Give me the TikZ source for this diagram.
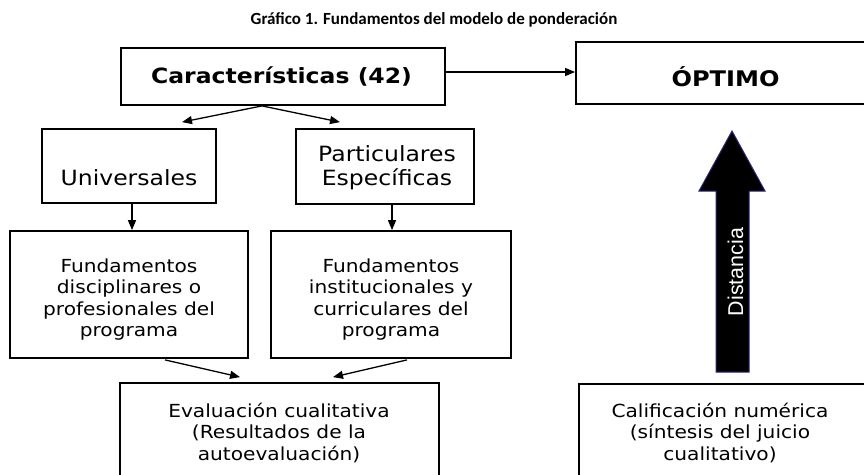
\documentclass[tikz,border=0pt]{standalone}
\usepackage{fontspec}
\newfontfamily\vfont{DejaVu Sans}[FakeStretch=1.12]
\newfontfamily\tfont{Carlito}
\newfontfamily\afont{Liberation Sans}
\usetikzlibrary{arrows.meta,calc}
\newcommand\mlines[1]{\begin{tabular}[t]{@{}c@{}}#1\end{tabular}}
\begin{document}
\begin{tikzpicture}[x=1pt,y=-1pt,
  box/.style={draw=black,line width=1.8pt,inner sep=0pt},
  txt/.style={inner sep=0pt,anchor=base,font=\vfont\fontsize{18}{21.5}\selectfont},
  bigtxt/.style={inner sep=0pt,anchor=base,font=\vfont\fontsize{21}{24}\selectfont},
  boldtxt/.style={inner sep=0pt,anchor=base,font=\vfont\bfseries\fontsize{21}{24}\selectfont},
  arr/.style={line width=1.3pt,-{Triangle[length=10pt,width=8pt]}}]
\path[use as bounding box] (0,0) rectangle (864,474);
\clip (0,0) rectangle (864,474);
% title
\node[inner sep=0pt,anchor=base,font=\tfont\bfseries\fontsize{17}{20}\selectfont] (title) at (434,24) {Gráfico 1. Fundamentos del modelo de ponderación};
% boxes
\node[box,minimum width=324pt,minimum height=57pt] (car) at (283,76.5) {};
\node[box,minimum width=294pt,minimum height=62pt] (opt) at (723,73) {};
\node[box,minimum width=174pt,minimum height=74pt] (univ) at (129,166) {};
\node[box,minimum width=178pt,minimum height=75pt] (part) at (385,166.5) {};
\node[box,minimum width=238pt,minimum height=127pt] (fund1) at (129,294.5) {};
\node[box,minimum width=240pt,minimum height=127pt] (fund2) at (391,294.5) {};
\node[box,minimum width=319pt,minimum height=107pt] (eval) at (279.5,436.5) {};
\node[box,minimum width=301pt,minimum height=106pt] (calif) at (729.5,437) {};
% texts
\node[boldtxt] (carT) at (281.5,83.3) {Características (42)};
\node[boldtxt,font=\vfont\bfseries\fontsize{21.5}{24}\selectfont] (optT) at (725.5,86) {ÓPTIMO};
\node[bigtxt] (univT) at (129,185.5) {Universales};
\node[bigtxt] (partT) at (387,161.7) {\mlines{Particulares\\Específicas}};
\node[txt] (fund1T) at (129,272) {\mlines{Fundamentos\\disciplinares o\\profesionales del\\programa}};
\node[txt] (fund2T) at (391,272) {\mlines{Fundamentos\\institucionales y\\curriculares del\\programa}};
\node[txt] (evalT) at (279,417) {\mlines{Evaluación cualitativa\\(Resultados de la\\autoevaluación)}};
\node[txt] (califT) at (720,417) {\mlines{Calificación numérica\\(síntesis del juicio\\cualitativo)}};
% big arrow
\path[fill=black,draw={rgb,255:red,40;green,40;blue,120},line width=1pt,line join=miter]
  (716,372) -- (716,191) -- (699,191) -- (732,131) -- (765,191) -- (749,191) -- (749,372) -- cycle;
\node[inner sep=0pt,rotate=90,text=white,font=\afont\fontsize{21.4}{24}\selectfont] (dist) at (735.5,272) {Distancia};
% connectors
\draw[arr] ($(car.east)+(0,-4.5)$) -- ($(opt.west)+(0,-1)$);
\draw[arr] ($(car.south)+(-21,0)$) -- ($(univ.north)+(53,-6)$);
\draw[arr] ($(car.south)+(-21,0)$) -- ($(part.north)+(-45,-6)$);
\draw[arr] ($(univ.south)+(3,0)$) -- ($(fund1.north)+(3,0)$);
\draw[arr] ($(part.south)+(7,0)$) -- ($(fund2.north)+(1,0)$);
\draw[arr] ($(fund1.south)+(36,1)$) -- ($(eval.north)+(-39.5,-5)$);
\draw[arr] ($(fund2.south)+(16,1)$) -- ($(eval.north)+(53.5,-5)$);
\end{tikzpicture}
\end{document}
